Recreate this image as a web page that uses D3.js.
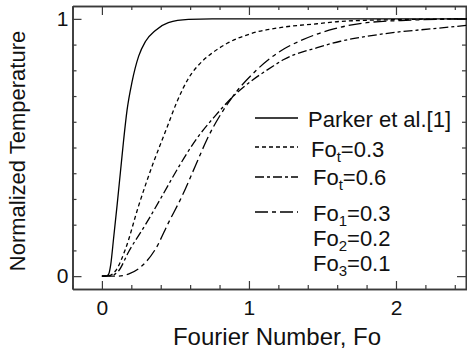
<!DOCTYPE html>
<html>
<head>
<meta charset="utf-8">
<script src="https://cdn.jsdelivr.net/npm/d3@7"></script>
<style>
  body { margin: 0; background: #fff; }
  svg { display: block; font-family: "Liberation Sans", Arial, sans-serif; }
</style>
</head>
<body>
<div class="chart-container"></div>
<script>
// values (Fo, normalized temperature)
const parkerFo = [0, 0.03, 0.046, 0.06, 0.08, 0.103, 0.126, 0.148, 0.171, 0.205, 0.25, 0.296, 0.364, 0.452, 0.588, 0.75, 1.0, 1.5, 2.0, 2.5];
const parkerT  = [0, 0, 0.008, 0.045, 0.15, 0.274, 0.405, 0.53, 0.645, 0.755, 0.855, 0.912, 0.955, 0.985, 0.998, 1.0, 1.0, 1.0, 1.0, 1.0];

const fot03Fo = [0, 0.05, 0.092, 0.16, 0.25, 0.352, 0.41, 0.444, 0.512, 0.59, 0.682, 0.738, 0.852, 1.01, 1.237, 1.464, 1.62, 2.0, 2.5];
const fot03T  = [0, 0.002, 0.02, 0.105, 0.274, 0.444, 0.53, 0.58, 0.68, 0.77, 0.835, 0.862, 0.905, 0.942, 0.968, 0.981, 0.99, 0.997, 1.0];

const fot06Fo = [0, 0.06, 0.113, 0.182, 0.296, 0.41, 0.5, 0.643, 0.772, 0.886, 1.169, 1.237, 1.464, 1.622, 1.8, 2.0, 2.257, 2.5];
const fot06T  = [0, 0.002, 0.02, 0.095, 0.2, 0.312, 0.403, 0.533, 0.624, 0.695, 0.818, 0.842, 0.888, 0.913, 0.932, 0.948, 0.962, 0.976];

const layersFo = [0, 0.1, 0.18, 0.273, 0.364, 0.454, 0.546, 0.636, 0.716, 0.886, 1.05, 1.237, 1.35, 1.577, 1.8, 2.1, 2.5];
const layersT  = [0, 0, 0.008, 0.04, 0.105, 0.209, 0.312, 0.429, 0.533, 0.695, 0.8, 0.883, 0.915, 0.961, 0.985, 0.995, 1.0];

const xMajor = [0, 1, 2];
const yMajor = [0, 1];

const W = 467, H = 353;
const x = d3.scaleLinear().domain([-0.2, 2.5]).range([72.5, 469.5]);
const y = d3.scaleLinear().domain([-0.05, 1.05]).range([289, 6]);

const svg = d3.select('.chart-container').append('svg')
  .attr('width', W).attr('height', H);

const zip = (a, b) => a.map((v, i) => [v, b[i]]);

// frame + ticks (all pointing inward)
const frame = svg.append('g').attr('class', 'frame');
const axisColor = '#3a3a3a';

function styleAxis(g) {
  g.select('.domain').attr('stroke', axisColor).attr('stroke-width', 1.6);
  g.selectAll('.tick line').attr('stroke', axisColor).attr('stroke-width', 1.2);
  g.selectAll('text').attr('fill', '#111').attr('font-size', 21)
    .attr('font-family', '"Liberation Sans", Arial, sans-serif');
}

const xMinor = d3.range(-0.2, 2.51, 0.2).map(v => +v.toFixed(2)).filter(v => !xMajor.includes(v));
const yMinor = d3.range(0, 1.01, 0.1).map(v => +v.toFixed(2)).filter(v => !yMajor.includes(v));

frame.append('g').attr('transform', 'translate(0,289)')
  .call(d3.axisBottom(x).tickValues(xMajor).tickSizeInner(-8).tickSizeOuter(0).tickPadding(11).tickFormat(d3.format('d')))
  .call(styleAxis);
frame.append('g').attr('transform', 'translate(0,289)')
  .call(d3.axisBottom(x).tickValues(xMinor).tickSizeInner(-4).tickSizeOuter(0).tickFormat(''))
  .call(styleAxis);
frame.append('g').attr('transform', 'translate(0,6)')
  .call(d3.axisTop(x).tickValues(xMajor).tickSizeInner(-9).tickSizeOuter(0).tickFormat(''))
  .call(styleAxis);
frame.append('g').attr('transform', 'translate(0,6)')
  .call(d3.axisTop(x).tickValues(xMinor).tickSizeInner(-4).tickSizeOuter(0).tickFormat(''))
  .call(styleAxis);

frame.append('g').attr('transform', 'translate(72.5,0)')
  .call(d3.axisLeft(y).tickValues(yMajor).tickSizeInner(-9).tickSizeOuter(0).tickPadding(4).tickFormat(d3.format('d')))
  .call(styleAxis);
frame.append('g').attr('transform', 'translate(72.5,0)')
  .call(d3.axisLeft(y).tickValues(yMinor).tickSizeInner(-4).tickSizeOuter(0).tickFormat(''))
  .call(styleAxis);
frame.append('g').attr('transform', 'translate(466,0)')
  .call(d3.axisRight(y).tickValues(yMajor).tickSizeInner(-9).tickSizeOuter(0).tickFormat(''))
  .call(styleAxis);
frame.append('g').attr('transform', 'translate(466,0)')
  .call(d3.axisRight(y).tickValues(yMinor).tickSizeInner(-4).tickSizeOuter(0).tickFormat(''))
  .call(styleAxis);

// curves
const line = d3.line().x(d => x(d[0])).y(d => y(d[1])).curve(d3.curveMonotoneX);

const series = [
  {name: 'parker', data: zip(parkerFo, parkerT), dash: null},
  {name: 'fot03', data: zip(fot03Fo, fot03T), dash: '4,3'},
  {name: 'fot06', data: zip(fot06Fo, fot06T), dash: '9,3,3,3'},
  {name: 'layers', data: zip(layersFo, layersT), dash: '13,4,4,4'}
];

svg.append('g').attr('class', 'curves')
  .selectAll('path')
  .data(series)
  .enter()
  .append('path')
  .attr('d', d => line(d.data))
  .attr('fill', 'none')
  .attr('stroke', '#000')
  .attr('stroke-width', 1.3)
  .attr('stroke-dasharray', d => d.dash);

// legend
const legend = svg.append('g').attr('class', 'legend')
  .attr('font-size', 22).attr('fill', '#111');

const legendLines = [
  {y: 118, dash: null},
  {y: 147, dash: '4,3'},
  {y: 177, dash: '9,3,3,3'},
  {y: 212, dash: '13,4,4,4'}
];
legend.selectAll('line')
  .data(legendLines)
  .enter()
  .append('line')
  .attr('x1', 255).attr('x2', 298)
  .attr('y1', d => d.y).attr('y2', d => d.y)
  .attr('stroke', '#000').attr('stroke-width', 1.3)
  .attr('stroke-dasharray', d => d.dash);

legend.append('text').attr('x', 308).attr('y', 127).text('Parker et al.[1]');

const foLabels = [
  {x: 311, y: 157, sub: 't', val: '=0.3'},
  {x: 313, y: 185, sub: 't', val: '=0.6'},
  {x: 313, y: 221, sub: '1', val: '=0.3'},
  {x: 313, y: 246, sub: '2', val: '=0.2'},
  {x: 313, y: 271, sub: '3', val: '=0.1'}
];
foLabels.forEach(d => {
  const t = legend.append('text').attr('x', d.x).attr('y', d.y);
  t.append('tspan').text('Fo');
  t.append('tspan').attr('dy', 5).attr('font-size', 15).text(d.sub);
  t.append('tspan').attr('dy', -5).text(d.val);
});

// axis titles
svg.append('text')
  .attr('x', 277).attr('y', 345)
  .attr('text-anchor', 'middle')
  .attr('font-size', 24).attr('fill', '#111')
  .text('Fourier Number, Fo');

svg.append('text')
  .attr('transform', 'translate(25,151) rotate(-90)')
  .attr('text-anchor', 'middle')
  .attr('font-size', 22).attr('fill', '#111')
  .text('Normalized Temperature');
</script>
</body>
</html>
